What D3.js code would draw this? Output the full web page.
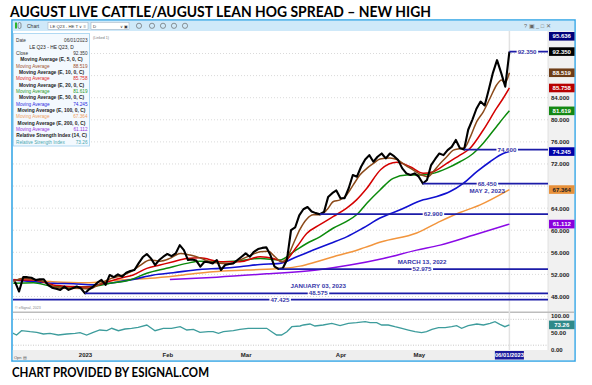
<!DOCTYPE html>
<html>
<head>
<meta charset="utf-8">
<script src="https://cdn.jsdelivr.net/npm/d3@7"></script>
<style>
  body { margin: 0; background: #fff; }
  svg { display: block; font-family: "Liberation Sans", Arial, sans-serif; }
</style>
</head>
<body>
<script>
const title = "AUGUST LIVE CATTLE/AUGUST LEAN HOG SPREAD \u2013 NEW HIGH";
const footer = "CHART PROVIDED BY ESIGNAL.COM";

// day index = trading days from Jan 3 2023 (0) to Jun 1 2023 (103)
const firstDay = -17;
const closes = [
  50.7, 48.9, 51.5, 51.5, 51.4, 51.0, 51.1, 51.1, 50.1, 49.6,
  49.4, 49.2, 49.8, 49.2, 49.5, 49.8, 49.5, 48.575, 49.3, 49.8,
  50.5, 51.0, 50.1, 51.9, 51.5, 52.0, 51.6, 52.3, 52.6, 52.8,
  54.0, 55.1, 55.7, 54.9, 53.7, 54.6, 55.2, 55.7, 55.3, 55.8,
  57.3, 56.4, 54.6, 54.7, 54.5, 53.4, 54.3, 54.2, 54.0, 54.6,
  52.8, 53.7, 53.9, 54.0, 54.6, 55.2, 55.8, 55.2, 56.1, 56.6,
  56.8, 56.9, 55.5, 53.4, 52.975, 53.1, 54.6, 60.0, 60.5, 62.7,
  63.8, 64.2, 63.4, 63.1, 62.9, 63.3, 66.0, 66.7, 67.2, 65.8,
  65.8, 67.6, 70.0, 69.7, 71.5, 72.8, 73.6, 72.4, 73.3, 73.9,
  73.0, 73.9, 73.4, 72.7, 71.2, 70.3, 70.0, 70.3, 69.7, 68.45,
  69.1, 71.8, 72.9, 73.9, 73.6, 74.5, 75.1, 76.35, 74.85, 74.6,
  78.2, 80.0, 82.0, 83.3, 82.6, 85.5, 88.5, 90.8, 88.5, 86.0,
  92.35
];

// moving averages as [day, value]
const ema5 = [[-17.4,50.7],[-15,51.3],[-12.5,51.1],[-10.1,50.7],[-7.7,49.8],[-5.3,49.5],[-2.8,49.5],[1.2,49.4],
  [3.6,50.3],[6.1,51.2],[8.5,51.7],[10.9,52.4],[13.3,53.6],[15.8,54.6],[18.2,54.4],[20.6,54.9],[23.1,55.8],
  [25.5,55.5],[27.9,55.0],[30.3,54.3],[32.8,54.0],[35.2,53.9],[37.6,54.6],[40,55.4],[42.5,56.1],[44.5,56.2],
  [46.1,55.2],[47.7,54.3],[49,55.0],[50.6,57.6],[52.2,60.2],[53.8,62.0],[55.4,62.8],[57,62.8],[58.7,63.7],
  [60.3,65.2],[61.9,65.5],[63.5,66.4],[65.1,68.2],[66.7,70.0],[68.4,71.2],[70,72.1],[71.6,72.9],[74,73.1],
  [75.7,72.8],[77.7,71.8],[79.7,70.9],[81.7,70.0],[83.3,69.7],[84.5,70.6],[86.2,72.1],[87.8,73.3],[89.4,74.5],
  [91,74.8],[92.2,75.0],[93.4,76.7],[95.1,79.7],[96.7,81.5],[98.3,83.9],[99.9,86.3],[101.1,87.2],[101.9,86.6],
  [103,88.519]];
const ema10 = [[-17.4,51.0],[-12.5,51.0],[-7.7,50.1],[-2.8,49.8],[1.2,49.7],[5.3,50.6],[8.5,51.3],[11.7,51.9],
  [15,53.1],[18.2,53.7],[21.4,54.3],[24.7,54.9],[27.9,55.0],[32.8,54.3],[37.6,54.3],[42.5,55.2],[45.7,54.9],
  [48.1,54.3],[51.4,57.0],[53.8,59.4],[57,61.0],[60.3,62.5],[63.5,64.0],[65.9,65.5],[68.4,67.6],[71.8,71.0],
  [75.7,72.3],[78.9,71.5],[82.1,70.3],[84.5,70.6],[87.8,72.1],[91,73.6],[93.4,74.8],[96.7,78.2],[99.9,82.1],
  [101.5,83.9],[103,85.758]];
const ema20 = [[-17.4,50.4],[-12.5,50.5],[-7.7,49.8],[-2.8,49.7],[2,49.8],[6.1,50.4],[10.9,51.0],[15,52.2],
  [19.8,53.1],[24.7,54.0],[27.9,54.4],[32.8,54.3],[37.6,54.5],[42.5,54.9],[47.3,54.6],[50.6,56.1],[53.8,57.6],
  [57,58.8],[60.3,60.4],[63.5,61.6],[65.9,62.8],[68.4,64.9],[71.6,67.3],[74.8,69.4],[78.1,70.0],[81.3,70.0],
  [84.5,70.3],[87.8,71.2],[91,72.4],[94.2,73.9],[96.7,75.8],[99.9,78.8],[101.5,80.3],[103,81.619]];
const ema50 = [[-17.4,51.0],[-12.5,50.7],[-7.7,50.4],[-2.8,50.3],[2,50.1],[6.9,50.5],[11.7,51.1],[16.6,51.9],
  [21.4,52.3],[27.9,52.9],[32.8,53.1],[37.6,53.4],[42.5,53.8],[47.3,54.0],[51.4,55.2],[55.4,56.4],[59.5,57.6],
  [63.5,58.8],[67.5,60.4],[71.6,62.2],[76.5,63.7],[82.1,65.5],[85.4,66.1],[88.6,67.0],[91.8,68.5],[95.1,70.6],
  [98.3,72.4],[101.5,73.9],[103,74.245]];
const ema100 = [[-17.4,51.1],[-8.5,50.7],[0,50.5],[8.5,51.0],[15.8,51.3],[23.9,51.9],[31.1,52.5],[39.2,52.8],
  [48.1,53.1],[52.2,53.5],[56.2,54.3],[60.3,55.2],[64.3,56.0],[68,56.9],[72,57.9],[80.5,59.5],[86.2,61.6],
  [91,63.2],[95.9,64.6],[103,67.364]];
const ema200 = [[20.6,51.1],[32,51.5],[44.1,52.1],[56.2,52.8],[64.3,53.7],[72.4,54.9],[80.5,56.4],[86.2,57.3],
  [94.2,59.1],[103,61.112]];

const rsi = [[-17.7,49.7],[-16.6,42.8],[-15.4,55.7],[-13.3,52.7],[-11.7,50.9],[-10.1,45.8],[-8.5,47.9],[-6.5,42.8],
  [-4.4,45.8],[-2.4,47.9],[-1.2,49.7],[0.4,42.8],[2,50.9],[3.6,57.8],[5.3,55.7],[6.5,63.0],[8.1,55.7],[9.7,60.8],
  [11.3,63.0],[12.9,66.0],[15,72.9],[17,55.7],[19,63.0],[21,63.0],[23.1,67.8],[24.7,57.8],[26.3,59.9],[27.9,50.9],
  [29.9,52.7],[31.1,52.7],[32.4,47.9],[33.6,52.7],[36,55.7],[37.6,59.9],[39.6,63.0],[41.7,63.0],[44.1,63.0],
  [45.3,52.7],[46.5,42.8],[47.7,42.8],[49,52.7],[50.2,67.8],[52.2,69.9],[53,72.9],[54.6,75.9],[55.8,69.9],
  [57.8,72.9],[59.9,78.0],[61.9,70.8],[63.9,78.0],[65.9,79.8],[68,82.8],[69.2,79.8],[70.8,79.8],[72,72.9],
  [73.6,72.9],[75.2,67.8],[76.9,63.0],[78.5,57.8],[80.1,52.7],[81.7,49.7],[82.9,52.7],[84.2,59.9],[85.8,64.8],
  [87.4,64.8],[89,67.8],[90.2,70.8],[91.4,63.0],[93,70.8],[95.1,75.9],[96.7,72.9],[98.3,78.0],[99.5,82.8],
  [100.7,75.0],[101.9,67.8],[103,73.26]];

const monthDays = [0, 20, 39, 62, 81];
const monthNames = ["2023", "Feb", "Mar", "Apr", "May"];
const priceTicks = d3.range(48, 93, 4);
const rsiTicks = [0, 50, 100];
const rsiGuides = [12, 90];

// support / high levels: value, first day, day where label sits, date note
const levelValues = [92.35, 74.6, 68.45, 62.9, 52.975, 48.575, 47.425];
const levelFrom = [103, 92, 82, 57, 47, 0, -19];
const levelLabelDay = [107.3, 102.4, 97.6, 84.5, 81.8, 56.6, 47.3];
const levelDates = [null, null, "MAY 2, 2023", null, "MARCH 13, 2022", "JANUARY 03, 2023", null];

const lastDate = "06/01/2023";
const topMarker = 95.636;

const legendRows = [
  ["Date", "06/01/2023"],
  ["LE Q23 - HE Q23, D"],
  ["Close", "92.350"],
  ["Moving Average (E, 5, 0, C)"],
  ["Moving Average", "88.519"],
  ["Moving Average (E, 10, 0, C)"],
  ["Moving Average", "85.758"],
  ["Moving Average (E, 20, 0, C)"],
  ["Moving Average", "81.619"],
  ["Moving Average (E, 50, 0, C)"],
  ["Moving Average", "74.245"],
  ["Moving Average (E, 100, 0, C)"],
  ["Moving Average", "67.364"],
  ["Moving Average (E, 200, 0, C)"],
  ["Moving Average", "61.112"],
  ["Relative Strength Index (14, C)"],
  ["Relative Strength Index", "73.26"]
];

// ---- styles ----
const col = {
  close: "#000", e5: "#8b4a1a", e10: "#d40000", e20: "#0b8a0b", e50: "#1010d0",
  e100: "#f2953d", e200: "#8a0ae6", rsi: "#3d9c9c", level: "#1c1ca8", levelText: "#3535a8"
};
const boxFill = {
  e5: "#6e3d17", e10: "#b80000", e20: "#138813", e50: "#0000a8",
  e100: "#e8913a", e200: "#8a00dd", rsi: "#2f8a8a"
};
const legendColors = [null, null, null, null, "#a0522d", null, "#e02828", null, "#2a9a2a", null, "#2a2ae0",
  null, "#f0a060", null, "#9630e0", null, "#4aa8b0"];

const W = 592, H = 385;
const frame = { l: 12, r: 575, t: 20, b: 361 };
const plot = { l: 13, r: 548, t: 31, b: 312 };
const rsiP = { t: 313, b: 350 };

const x = d3.scaleLinear().domain([0, 103]).range([85, 509.4]);
const y = d3.scaleLinear().domain([48, 84]).range([296.5, 97.7]);
const yR = d3.scaleLinear().domain([0, 100]).range([349.2, 316]);

const svg = d3.select("body").append("svg")
  .attr("width", W).attr("height", H).attr("viewBox", [0, 0, W, H]);

svg.append("rect").attr("width", W).attr("height", H).attr("fill", "#fff");

// headline + footer
const bigFont = "Lato, 'Open Sans', sans-serif";
svg.append("text")
  .attr("x", 10).attr("y", 17.3)
  .attr("font-family", bigFont).attr("font-weight", 700).attr("font-size", 15)
  .attr("textLength", 421).attr("lengthAdjust", "spacingAndGlyphs")
  .text(title);
svg.append("text")
  .attr("x", 12).attr("y", 377)
  .attr("font-family", bigFont).attr("font-weight", 700).attr("font-size", 13.5)
  .attr("textLength", 197).attr("lengthAdjust", "spacingAndGlyphs")
  .text(footer);

// window frame
svg.append("rect")
  .attr("x", frame.l).attr("y", frame.t)
  .attr("width", frame.r - frame.l).attr("height", frame.b - frame.t)
  .attr("fill", "#fff").attr("stroke", "#3aa8e6").attr("stroke-width", 1.6);
svg.append("rect")
  .attr("x", frame.l + 0.8).attr("y", frame.t + 0.8)
  .attr("width", frame.r - frame.l - 1.6).attr("height", plot.t - frame.t - 0.8)
  .attr("fill", "#cfe9f9");

// toolbar (simplified)
const tb = svg.append("g").attr("font-size", 5).attr("fill", "#333");
tb.append("rect").attr("x", 15).attr("y", 22.5).attr("width", 2).attr("height", 6).attr("fill", "#2bb52b");
tb.append("rect").attr("x", 18).attr("y", 22.5).attr("width", 3).attr("height", 6).attr("rx", 1.5)
  .attr("fill", "none").attr("stroke", "#555").attr("stroke-width", 0.6);
tb.append("text").attr("x", 27).attr("y", 28).text("Chart");
tb.append("rect").attr("x", 48).attr("y", 22.3).attr("width", 40).attr("height", 7)
  .attr("fill", "#fff").attr("stroke", "#9ab").attr("stroke-width", 0.5);
tb.append("text").attr("x", 50).attr("y", 27.8).attr("font-size", 4.3).text("LE Q23 - HE T \u2228  \u2261");
tb.append("rect").attr("x", 91).attr("y", 22.3).attr("width", 38).attr("height", 7)
  .attr("fill", "#fff").attr("stroke", "#9ab").attr("stroke-width", 0.5);
tb.append("text").attr("x", 93).attr("y", 27.8).attr("font-size", 4.3).text("D");
tb.append("text").attr("x", 120).attr("y", 27.8).attr("font-size", 4.3).text("\u2228 \u25a3");
[139, 152, 163, 174, 185].forEach(cx => {
  tb.append("circle").attr("cx", cx).attr("cy", 25.8).attr("r", 2.6)
    .attr("fill", "none").attr("stroke", "#555").attr("stroke-width", 0.6);
});
tb.append("text").attr("x", 524).attr("y", 28).attr("font-size", 5.5).attr("fill", "#666")
  .text("?  \u25a3  _  \u25a1  \u2715");

// right axis & bottom axis background
svg.append("rect").attr("x", plot.r).attr("y", plot.t).attr("width", frame.r - plot.r - 0.8)
  .attr("height", rsiP.b - plot.t).attr("fill", "#f1f1f1");
svg.append("rect").attr("x", frame.l + 0.8).attr("y", rsiP.b).attr("width", frame.r - frame.l - 1.6)
  .attr("height", frame.b - rsiP.b - 0.8).attr("fill", "#eeeeee");
svg.append("line").attr("x1", plot.r).attr("x2", plot.r).attr("y1", plot.t).attr("y2", rsiP.b)
  .attr("stroke", "#dcdcdc").attr("stroke-width", 0.8);

// panel separator
svg.append("line").attr("x1", frame.l + 1).attr("x2", frame.r - 1).attr("y1", 312.3).attr("y2", 312.3)
  .attr("stroke", "#bdbdbd").attr("stroke-width", 1.6);

// clip paths
const defs = svg.append("defs");
defs.append("clipPath").attr("id", "clipP").append("rect")
  .attr("x", plot.l).attr("y", plot.t).attr("width", plot.r - plot.l).attr("height", plot.b - plot.t);
defs.append("clipPath").attr("id", "clipR").append("rect")
  .attr("x", plot.l).attr("y", rsiP.t).attr("width", plot.r - plot.l).attr("height", rsiP.b - rsiP.t);

// grid
svg.append("g").selectAll("line").data(priceTicks).join("line")
  .attr("x1", plot.l).attr("x2", plot.r)
  .attr("y1", d => y(d)).attr("y2", d => y(d))
  .attr("stroke", "#cfcfcf").attr("stroke-width", 0.8).attr("stroke-dasharray", "1,2");
svg.append("g").selectAll("line").data(rsiGuides).join("line")
  .attr("x1", plot.l).attr("x2", plot.r)
  .attr("y1", d => yR(d)).attr("y2", d => yR(d))
  .attr("stroke", "#bdbdbd").attr("stroke-width", 0.8).attr("stroke-dasharray", "1,1.5");

// cursor line on last bar
svg.append("line").attr("x1", x(103)).attr("x2", x(103)).attr("y1", plot.t).attr("y2", rsiP.b)
  .attr("stroke", "#e2e2e2").attr("stroke-width", 1.5);

// ---- price panel ----
const gP = svg.append("g").attr("clip-path", "url(#clipP)");
const lineS = d3.line().x(d => x(d[0])).y(d => y(d[1])).curve(d3.curveMonotoneX);

const maSeries = [
  [ema200, col.e200, 1.5], [ema100, col.e100, 1.5], [ema50, col.e50, 1.6],
  [ema20, col.e20, 1.5], [ema10, col.e10, 1.5], [ema5, col.e5, 1.5]
];
maSeries.forEach(([data, c, w]) => {
  gP.append("path").datum(data).attr("d", lineS)
    .attr("fill", "none").attr("stroke", c).attr("stroke-width", w).attr("stroke-linejoin", "round");
});

// levels
const levelG = svg.append("g").attr("clip-path", "url(#clipP)");
levelValues.forEach((v, i) => {
  const ly = y(v);
  levelG.append("line")
    .attr("x1", Math.max(plot.l, x(levelFrom[i]))).attr("x2", plot.r)
    .attr("y1", ly).attr("y2", ly)
    .attr("stroke", col.level).attr("stroke-width", 1.8);
});

const closeData = closes.map((v, i) => [firstDay + i, v]);
gP.append("path").datum(closeData)
  .attr("d", d3.line().x(d => x(d[0])).y(d => y(d[1])))
  .attr("fill", "none").attr("stroke", col.close).attr("stroke-width", 2.1)
  .attr("stroke-linejoin", "round");

// level labels
const labG = svg.append("g").attr("font-size", 6.2).attr("font-weight", 700).attr("fill", col.levelText);
levelValues.forEach((v, i) => {
  const ly = y(v), lx = x(levelLabelDay[i]);
  const t = labG.append("text").attr("x", lx).attr("y", ly).attr("dy", "0.35em")
    .attr("text-anchor", "middle").text(d3.format(".3f")(v));
  const bb = t.node().getBBox();
  labG.insert("rect", "text").attr("x", bb.x - 1).attr("y", ly - 2.2)
    .attr("width", bb.width + 2).attr("height", 4.4).attr("fill", "#fff");
  if (levelDates[i]) {
    const below = v === 68.45;
    labG.append("text").attr("x", lx).attr("y", below ? ly + 7.2 : ly - 7.2).attr("dy", "0.35em")
      .attr("text-anchor", "middle").text(levelDates[i]);
  }
});

svg.append("text").attr("x", 15).attr("y", 309).attr("font-size", 3.6).attr("fill", "#888")
  .text("\u00a9 eSignal, 2023");
svg.append("text").attr("x", 93).attr("y", 38.5).attr("font-size", 3.6).attr("fill", "#777")
  .text("(Linked 1)");

// ---- RSI panel ----
svg.append("g").attr("clip-path", "url(#clipR)").append("path").datum(rsi)
  .attr("d", d3.line().x(d => x(d[0])).y(d => yR(d[1])))
  .attr("fill", "none").attr("stroke", col.rsi).attr("stroke-width", 1.3);

// ---- value boxes (right axis) ----
const f3 = d3.format(".3f");
const last = a => a[a.length - 1][1];
const boxes = [
  [topMarker, Math.max(plot.t + 5.3, y(topMarker)), "#00007a", "#fff", f3],
  [closes[closes.length - 1], y(closes[closes.length - 1]), "#000", "#fff", f3],
  [last(ema5), y(last(ema5)), boxFill.e5, "#fff", f3],
  [last(ema10), y(last(ema10)), boxFill.e10, "#fff", f3],
  [last(ema20), y(last(ema20)), boxFill.e20, "#fff", f3],
  [last(ema50), y(last(ema50)), boxFill.e50, "#fff", f3],
  [last(ema100), y(last(ema100)), boxFill.e100, "#222", f3],
  [last(ema200), y(last(ema200)), boxFill.e200, "#fff", f3]
];
const rsiBox = [last(rsi), yR(last(rsi)), boxFill.rsi, "#fff", d3.format(".2f")];

// ---- axes ----
function styleAxis(g) {
  g.select(".domain").remove();
  g.selectAll("text").attr("font-family", "'Liberation Sans', Arial, sans-serif")
    .attr("font-size", 6).attr("font-weight", 700).attr("fill", "#222");
}
// price tick labels hidden where a value box sits on top of them
const freeTicks = priceTicks.filter(t => boxes.every(b => Math.abs(y(t) - b[1]) > 5));
svg.append("g").attr("transform", `translate(${plot.r},0)`)
  .call(d3.axisRight(y).tickValues(freeTicks).tickFormat(f3).tickSize(0).tickPadding(3))
  .call(styleAxis);
svg.append("g").attr("transform", `translate(${plot.r},0)`)
  .call(d3.axisRight(yR).tickValues(rsiTicks).tickFormat(d3.format(".2f")).tickSize(0).tickPadding(3))
  .call(styleAxis);
svg.append("g").attr("transform", `translate(0,${rsiP.b + 1})`)
  .call(d3.axisBottom(x).tickValues(monthDays).tickFormat((d, i) => monthNames[i]).tickSize(0).tickPadding(2))
  .call(styleAxis);
svg.append("text").attr("x", 14).attr("y", 358.5).attr("font-size", 4).attr("fill", "#555").text("Opn \u25a4");

function valueBox([v, yy, fill, textFill, fmt]) {
  const g = svg.append("g");
  g.append("rect").attr("x", plot.r + 1).attr("y", yy - 4.3).attr("width", 25.5).attr("height", 8.6).attr("fill", fill);
  g.append("text").attr("x", plot.r + 13.8).attr("y", yy).attr("dy", "0.35em")
    .attr("text-anchor", "middle").attr("font-size", 6).attr("font-weight", 700).attr("fill", textFill)
    .text(fmt(v));
}
boxes.forEach(valueBox);
valueBox(rsiBox);

// date box
const dg = svg.append("g");
dg.append("rect").attr("x", x(103) - 14.5).attr("y", rsiP.b + 1).attr("width", 29).attr("height", 8.5).attr("fill", "#1a1a9c");
dg.append("text").attr("x", x(103)).attr("y", rsiP.b + 5.3).attr("dy", "0.35em").attr("text-anchor", "middle")
  .attr("font-size", 5.8).attr("font-weight", 700).attr("fill", "#fff").text(lastDate);

// ---- data window ----
const lg = svg.append("g");
lg.append("rect").attr("x", 13.5).attr("y", 33.5).attr("width", 76).attr("height", 112.5)
  .attr("fill", "#f3f9fe").attr("stroke", "#9fd0f0").attr("stroke-width", 0.8);
legendRows.forEach((r, i) => {
  const ry = 40.7 + i * 6.33;
  if (r.length === 1) {
    lg.append("text").attr("x", 51.5).attr("y", ry).attr("dy", "0.35em").attr("text-anchor", "middle")
      .attr("font-size", 4.9).attr("font-weight", i === 1 ? 400 : 700).attr("fill", "#222").text(r[0]);
  } else {
    const c = legendColors[i] || "#333";
    lg.append("text").attr("x", 16).attr("y", ry).attr("dy", "0.35em")
      .attr("font-size", 4.7).attr("fill", c).text(r[0]);
    lg.append("text").attr("x", 87.5).attr("y", ry).attr("dy", "0.35em").attr("text-anchor", "end")
      .attr("font-size", 4.7).attr("fill", c).text(r[1]);
  }
});
</script>
</body>
</html>
